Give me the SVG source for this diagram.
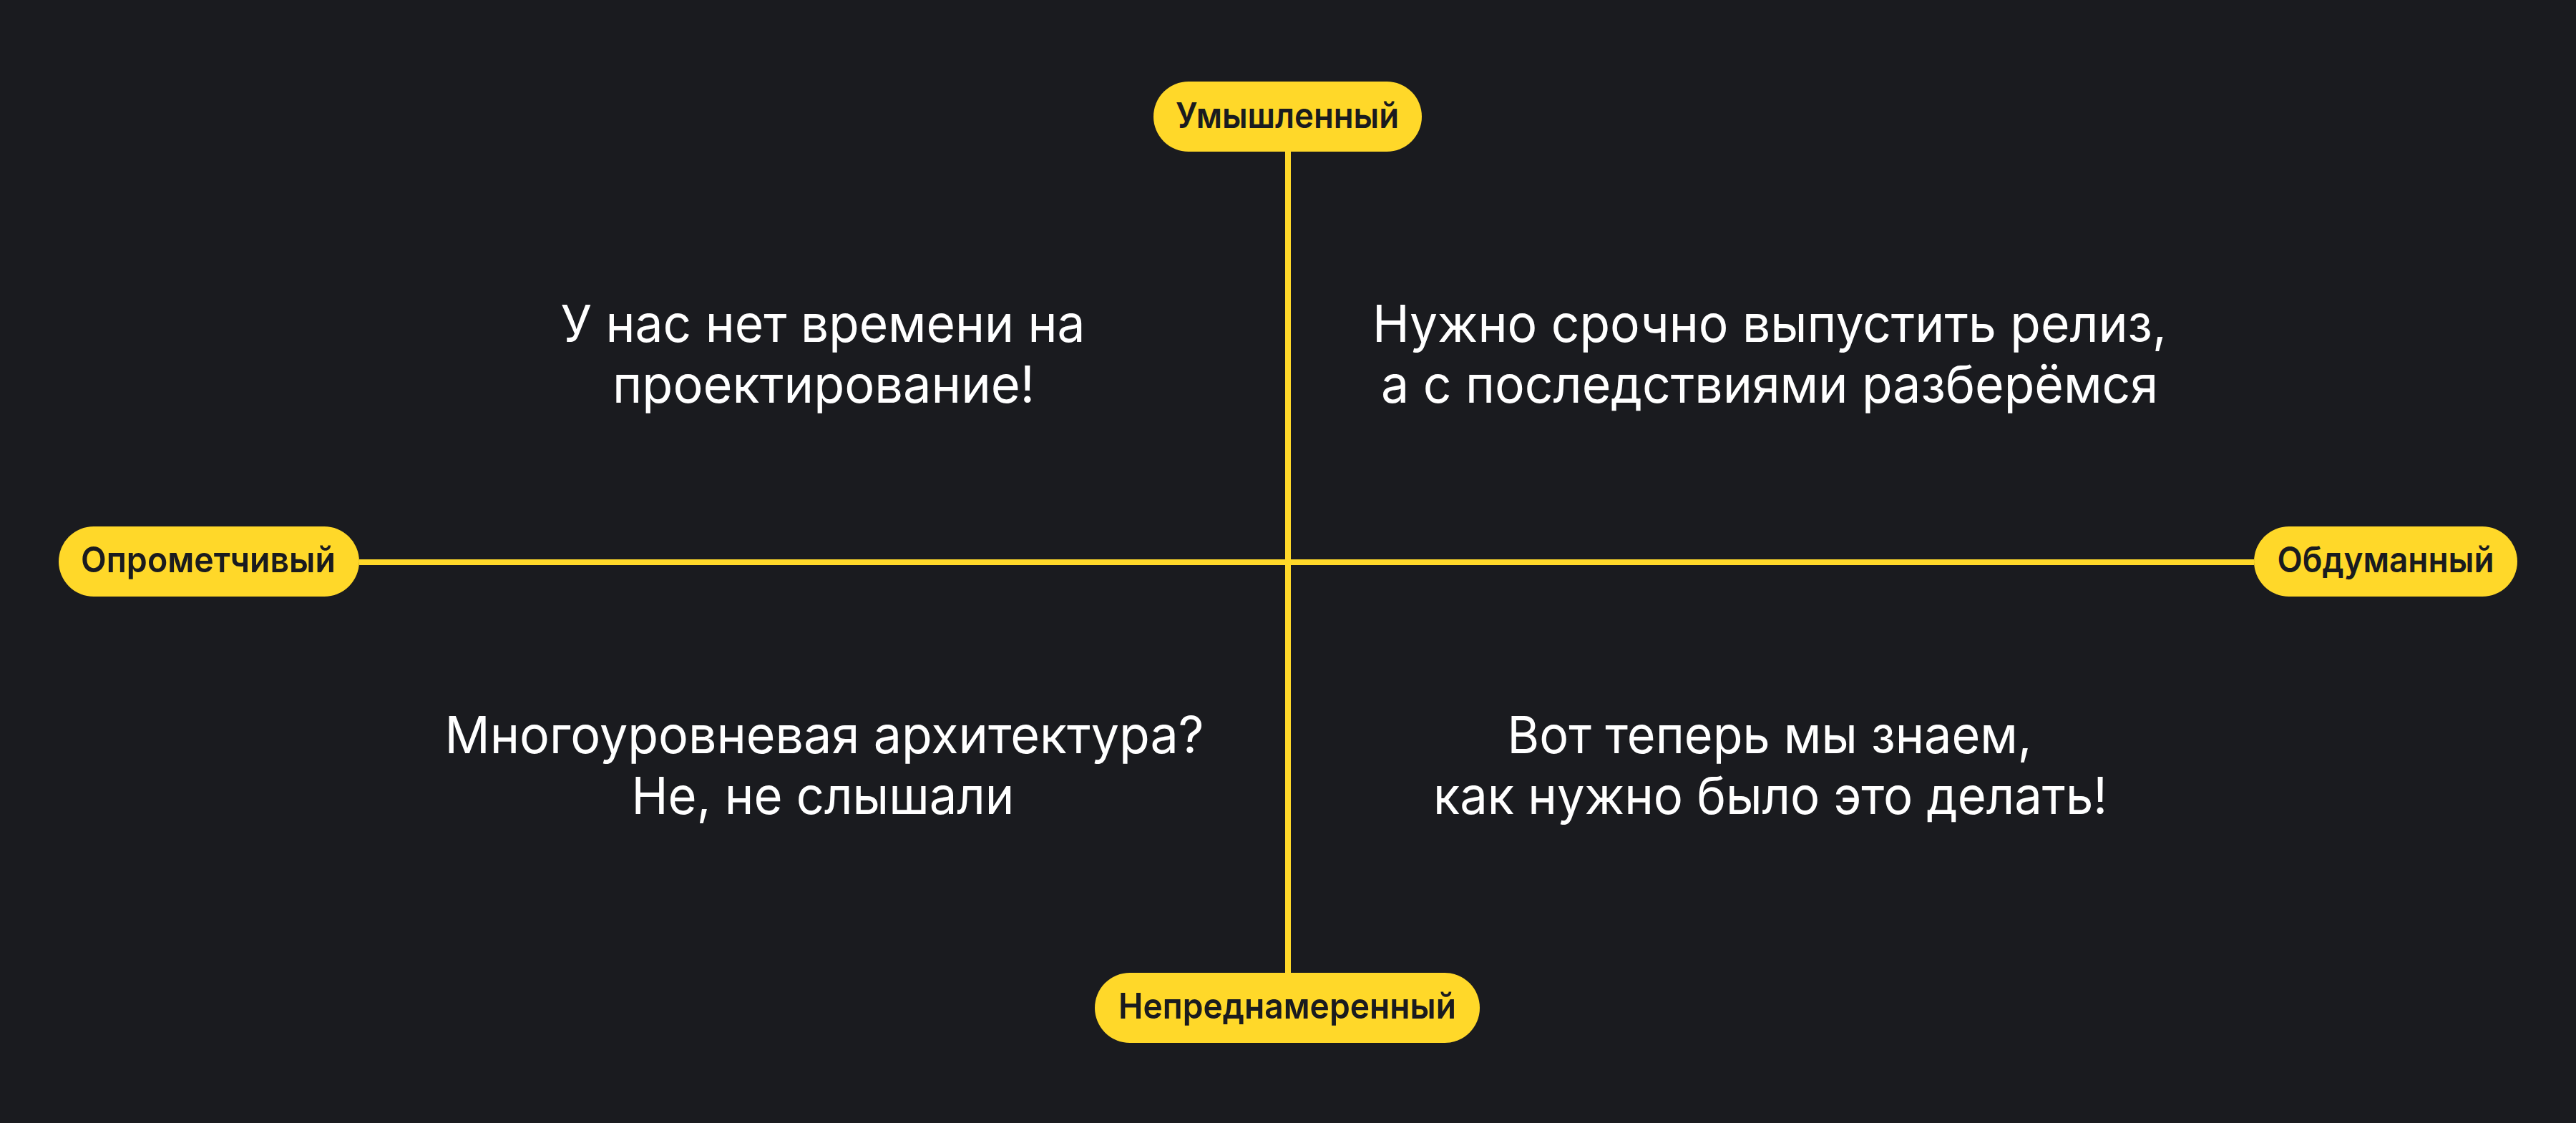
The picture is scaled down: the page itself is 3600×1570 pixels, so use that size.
<svg xmlns="http://www.w3.org/2000/svg" width="3600" height="1570" viewBox="0 0 3600 1570">
<style>
.pill{fill:#ffd829}
.lbl{font-family:Inter,"Noto Sans","Liberation Sans",sans-serif;font-weight:600;font-size:50px;fill:#1a1b1f;text-anchor:middle}
.q{font-family:Inter,"Noto Sans","Liberation Sans",sans-serif;font-weight:400;font-size:72px;fill:#ffffff;text-anchor:middle}
.axis{stroke:#ffd829;stroke-width:8;fill:none}
</style>
<rect width="3600" height="1570" fill="#1a1b1f"/>
<g id="connectors">
<line class="axis" x1="1800" y1="212" x2="1800" y2="1360"/>
<line class="axis" x1="502" y1="786" x2="3150" y2="786"/>
</g>
<g id="node-top">
<rect class="pill" x="1612" y="114" width="375" height="98" rx="49"/>
<text class="lbl" x="1799" y="179" textLength="312" lengthAdjust="spacingAndGlyphs">Умышленный</text>
</g>
<g id="node-left">
<rect class="pill" x="82" y="736" width="420" height="98" rx="49"/>
<text class="lbl" x="291" y="800" textLength="356" lengthAdjust="spacingAndGlyphs">Опрометчивый</text>
</g>
<g id="node-right">
<rect class="pill" x="3150" y="736" width="368" height="98" rx="49"/>
<text class="lbl" x="3334" y="800" textLength="303" lengthAdjust="spacingAndGlyphs">Обдуманный</text>
</g>
<g id="node-bottom">
<rect class="pill" x="1530" y="1360" width="538" height="98" rx="49"/>
<text class="lbl" x="1799" y="1424" textLength="472" lengthAdjust="spacingAndGlyphs">Непреднамеренный</text>
</g>
<g id="quadrant-top-left">
<text class="q" x="1150" y="478" textLength="733" lengthAdjust="spacingAndGlyphs">У нас нет времени на</text>
<text class="q" x="1151" y="563" textLength="590" lengthAdjust="spacingAndGlyphs">проектирование!</text>
</g>
<g id="quadrant-top-right">
<text class="q" x="2473" y="478" textLength="1110" lengthAdjust="spacingAndGlyphs">Нужно срочно выпустить релиз,</text>
<text class="q" x="2473" y="563" textLength="1086" lengthAdjust="spacingAndGlyphs">а с последствиями разберёмся</text>
</g>
<g id="quadrant-bottom-left">
<text class="q" x="1152" y="1053" textLength="1061" lengthAdjust="spacingAndGlyphs">Многоуровневая архитектура?</text>
<text class="q" x="1150" y="1138" textLength="535" lengthAdjust="spacingAndGlyphs">Не, не слышали</text>
</g>
<g id="quadrant-bottom-right">
<text class="q" x="2473" y="1053" textLength="733" lengthAdjust="spacingAndGlyphs">Вот теперь мы знаем,</text>
<text class="q" x="2474" y="1138" textLength="942" lengthAdjust="spacingAndGlyphs">как нужно было это делать!</text>
</g>
</svg>
